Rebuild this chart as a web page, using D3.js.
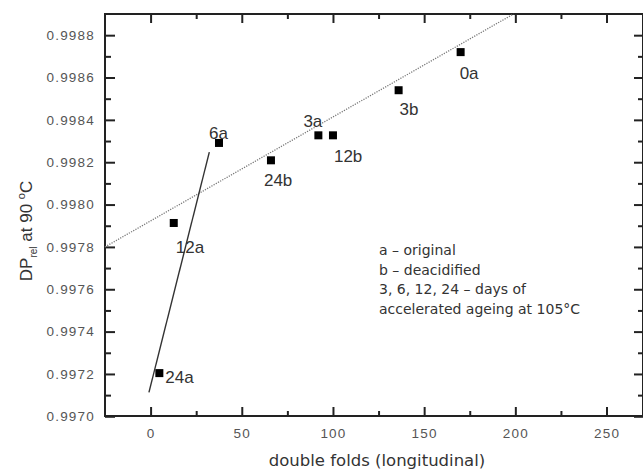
<!DOCTYPE html>
<html>
<head>
    <title>DP rel vs double folds</title>
    <script src="https://d3js.org/d3.v7.min.js"></script>
    <style>
        body { margin: 0; background: #fff; }
        .axis text {
            font: 13.5px "Liberation Sans", Arial, sans-serif;
            letter-spacing: 1.2px;
            fill: #555;
        }
        .axis line { stroke: #222; stroke-width: 2; }
        .axis .domain { display: none; }
        .frame { fill: none; stroke: #222; stroke-width: 2; }
        .pt-label { font: 17px "Liberation Sans", Arial, sans-serif; fill: #333; }
        .legend { font: 14px "DejaVu Sans", Verdana, sans-serif; fill: #333; }
    </style>
</head>
<body>
    <svg id="chart"></svg>

    <script>
        // sample labels and measured values
        var labels = ["0a", "3b", "3a", "12b", "24b", "6a", "12a", "24a"];
        var folds  = [170, 136, 92, 100, 66, 37.5, 12.7, 4.8];
        var dpRel  = [0.99872, 0.99854, 0.998327, 0.998327, 0.998209, 0.998291, 0.997913, 0.997204];

        // fitted lines (end points)
        var dottedX = [-25, 199],  dottedY = [0.99780, 0.99890];
        var solidX  = [-0.9, 32.2], solidY  = [0.997113, 0.998248];

        var xTicks = [0, 50, 100, 150, 200, 250];
        var xMinor = [-25, 25, 75, 125, 175, 225];
        var yTicks = [0.9970, 0.9972, 0.9974, 0.9976, 0.9978, 0.9980, 0.9982, 0.9984, 0.9986, 0.9988];
        var yMinor = [0.9971, 0.9973, 0.9975, 0.9977, 0.9979, 0.9981, 0.9983, 0.9985, 0.9987];

        var legendLines = ["a \u2013 original", "b \u2013 deacidified", "3, 6, 12, 24 \u2013 days of", "accelerated ageing at 105\u00b0C"];

        var margin = {top: 14, right: 0, bottom: 54, left: 105},
            W = 643, H = 470,
            width = 538,
            height = H - margin.top - margin.bottom;

        var x = d3.scaleLinear().domain([-25, 270]).range([0, width]),
            y = d3.scaleLinear().domain([0.9970, 0.9989]).range([height + 0.3, 0]);

        var svg = d3.select("#chart")
            .attr("width", W)
            .attr("height", H)
            .append("g")
            .attr("transform", "translate(" + margin.left + "," + margin.top + ")");

        // ticks, all pointing inward
        svg.append("g").attr("class", "axis").attr("transform", "translate(0," + height + ")")
            .call(d3.axisBottom(x).tickValues(xTicks).tickSize(-9).tickPadding(12));
        svg.append("g").attr("class", "axis").attr("transform", "translate(0," + height + ")")
            .call(d3.axisBottom(x).tickValues(xMinor.filter(function(d) { return d > -25; })).tickSize(-5).tickFormat(""));
        svg.append("g").attr("class", "axis")
            .call(d3.axisTop(x).tickValues(xTicks).tickSize(-9).tickFormat(""));
        svg.append("g").attr("class", "axis")
            .call(d3.axisTop(x).tickValues(xMinor.filter(function(d) { return d > -25; })).tickSize(-5).tickFormat(""));

        svg.append("g").attr("class", "axis")
            .call(d3.axisLeft(y).tickValues(yTicks).tickSize(-10).tickPadding(10).tickFormat(d3.format(".4f")));
        svg.append("g").attr("class", "axis")
            .call(d3.axisLeft(y).tickValues(yMinor).tickSize(-6).tickFormat(""));
        svg.append("g").attr("class", "axis").attr("transform", "translate(" + width + ",0)")
            .call(d3.axisRight(y).tickValues(yTicks).tickSize(-9).tickFormat(""));
        svg.append("g").attr("class", "axis").attr("transform", "translate(" + width + ",0)")
            .call(d3.axisRight(y).tickValues(yMinor).tickSize(-5).tickFormat(""));

        svg.append("rect").attr("class", "frame")
            .attr("x", 0).attr("y", 0).attr("width", width).attr("height", height);

        // fit lines
        var line = d3.line().x(function(d) { return x(d[0]); }).y(function(d) { return y(d[1]); });
        svg.append("path")
            .datum(d3.zip(dottedX, dottedY))
            .attr("d", line)
            .attr("fill", "none")
            .attr("stroke", "#777")
            .attr("stroke-width", 1.3)
            .attr("stroke-dasharray", "1.2,1.3");
        svg.append("path")
            .datum(d3.zip(solidX, solidY))
            .attr("d", line)
            .attr("fill", "none")
            .attr("stroke", "#333")
            .attr("stroke-width", 1.4);

        var pts = labels.map(function(l, i) { return {label: l, x: folds[i], y: dpRel[i]}; });

        svg.selectAll(".pt")
            .data(pts)
            .enter().append("rect")
            .attr("class", "pt")
            .attr("x", function(d) { return x(d.x) - 4; })
            .attr("y", function(d) { return y(d.y) - 4; })
            .attr("width", 8)
            .attr("height", 8)
            .attr("fill", "#000");

        // label offsets relative to the point (px)
        var offs = {
            "0a": [-1, 27], "3b": [1, 25], "3a": [-15, -8], "12b": [1, 27],
            "24b": [-7, 26], "6a": [-10, -4], "12a": [2, 30], "24a": [6, 10]
        };
        svg.selectAll(".pt-label")
            .data(pts)
            .enter().append("text")
            .attr("class", "pt-label")
            .attr("x", function(d) { return x(d.x) + offs[d.label][0]; })
            .attr("y", function(d) { return y(d.y) + offs[d.label][1]; })
            .text(function(d) { return d.label; });

        // legend
        svg.append("g").selectAll("text")
            .data(legendLines)
            .enter().append("text")
            .attr("class", "legend")
            .attr("x", 274)
            .attr("y", function(d, i) { return 241 + i * 19.5; })
            .text(function(d) { return d; });

        // axis titles
        svg.append("text")
            .attr("x", 272)
            .attr("y", height + 50)
            .attr("text-anchor", "middle")
            .style("font", "16.5px 'DejaVu Sans', Verdana, sans-serif")
            .style("fill", "#333")
            .text("double folds (longitudinal)");

        var yt = svg.append("text")
            .attr("transform", "translate(-73," + (height / 2 + 16) + ") rotate(-90)")
            .attr("text-anchor", "middle")
            .style("font", "17px 'Liberation Sans', Arial, sans-serif")
            .style("fill", "#333");
        yt.append("tspan").text("DP");
        yt.append("tspan").attr("dy", 5).style("font-size", "10px").text("rel");
        yt.append("tspan").attr("dy", -5).text(" at 90 ");
        yt.append("tspan").attr("dy", -7).style("font-size", "11px").text("o");
        yt.append("tspan").attr("dy", 7).text("C");
    </script>
</body>
</html>
